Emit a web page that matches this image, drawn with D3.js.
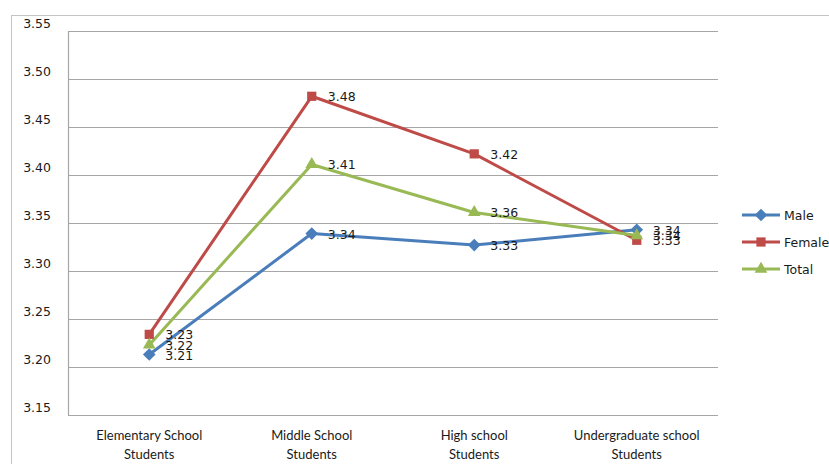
<!DOCTYPE html>
<html>
<head>
<meta charset="utf-8">
<script src="https://cdn.jsdelivr.net/npm/d3@7"></script>
<style>
  html, body { margin: 0; padding: 0; background: #fff; }
  svg { display: block; }
</style>
</head>
<body>
<svg id="chart" width="829" height="464"></svg>
<script>
const categories = [
  ["Elementary School", "Students"],
  ["Middle School", "Students"],
  ["High school", "Students"],
  ["Undergraduate school", "Students"]
];
const maleValues = [3.213, 3.339, 3.327, 3.343];
const femaleValues = [3.234, 3.482, 3.422, 3.332];
const totalValues = [3.223, 3.411, 3.361, 3.337];
const seriesNames = ["Male", "Female", "Total"];
const yTicks = [3.15, 3.20, 3.25, 3.30, 3.35, 3.40, 3.45, 3.50, 3.55];

// square rotated 45° gives an even diamond marker
const evenDiamond = {
  draw(context, size) {
    const r = Math.sqrt(size / 2);
    context.moveTo(0, -r);
    context.lineTo(r, 0);
    context.lineTo(0, r);
    context.lineTo(-r, 0);
    context.closePath();
  }
};

const series = [
  { name: seriesNames[0], values: maleValues, color: "#4A7EBB", marker: evenDiamond, size: 80 },
  { name: seriesNames[1], values: femaleValues, color: "#BE4B48", marker: d3.symbolSquare, size: 85 },
  { name: seriesNames[2], values: totalValues, color: "#98B954", marker: d3.symbolTriangle, size: 70 }
];

const svg = d3.select("#chart");

// chart frame
svg.append("rect")
  .attr("x", 11.5).attr("y", 15.5)
  .attr("width", 830).attr("height", 460)
  .attr("fill", "none").attr("stroke", "#c4c4c4").attr("stroke-width", 1);

const plot = { left: 68, right: 718, top: 31, bottom: 415 };

const x = d3.scaleBand()
  .domain(d3.range(categories.length))
  .range([plot.left, plot.right]);

const y = d3.scaleLinear()
  .domain([3.15, 3.55])
  .range([plot.bottom, plot.top]);

// horizontal gridlines
svg.append("g")
  .selectAll("line")
  .data(yTicks)
  .join("line")
  .attr("x1", plot.left).attr("x2", plot.right)
  .attr("y1", d => Math.round(y(d)) + 0.5).attr("y2", d => Math.round(y(d)) + 0.5)
  .attr("stroke", "#a6a6a6").attr("stroke-width", 1.2);

// vertical axis line
svg.append("line")
  .attr("x1", plot.left + 0.5).attr("x2", plot.left + 0.5)
  .attr("y1", plot.top).attr("y2", plot.bottom)
  .attr("stroke", "#a6a6a6").attr("stroke-width", 1.2);

// y tick labels
svg.append("g")
  .selectAll("text")
  .data(yTicks)
  .join("text")
  .attr("x", 51).attr("y", d => y(d) - 3)
  .attr("text-anchor", "end")
  .attr("font-family", "DejaVu Sans, Verdana, sans-serif")
  .attr("font-size", 12.5)
  .attr("fill", "#1a1a1a")
  .text(d => d3.format(".2f")(d));

// category labels
const catG = svg.append("g");
categories.forEach((lines, i) => {
  const t = catG.append("text")
    .attr("x", x(i) + x.bandwidth() / 2)
    .attr("y", 440)
    .attr("text-anchor", "middle")
    .attr("font-family", "Lato, Carlito, sans-serif")
    .attr("font-size", 13)
    .attr("fill", "#1a1a1a");
  lines.forEach((ln, j) => {
    t.append("tspan")
      .attr("x", x(i) + x.bandwidth() / 2)
      .attr("dy", j === 0 ? 0 : 19)
      .text(ln);
  });
});

const cx = i => x(i) + x.bandwidth() / 2;
const line = d3.line().x((d, i) => cx(i)).y(d => y(d));

// lines
series.forEach(s => {
  svg.append("path")
    .datum(s.values)
    .attr("d", line)
    .attr("fill", "none")
    .attr("stroke", s.color)
    .attr("stroke-width", 3)
    .attr("stroke-linejoin", "round");
});

// markers
series.forEach(s => {
  const sym = d3.symbol().type(s.marker).size(s.size);
  svg.append("g")
    .selectAll("path")
    .data(s.values)
    .join("path")
    .attr("transform", (d, i) => `translate(${cx(i)},${y(d)})`)
    .attr("d", sym)
    .attr("fill", s.color);
});

// data labels
series.forEach(s => {
  svg.append("g")
    .selectAll("text")
    .data(s.values)
    .join("text")
    .attr("x", (d, i) => cx(i) + 16)
    .attr("y", d => y(d) + 5)
    .attr("font-family", "DejaVu Sans, Verdana, sans-serif")
    .attr("font-size", 12.5)
    .attr("fill", "#1a1a1a")
    .text(d => d3.format(".2f")(d));
});

// legend
const legend = svg.append("g");
series.forEach((s, i) => {
  const ly = 215 + i * 27;
  legend.append("line")
    .attr("x1", 742).attr("x2", 780)
    .attr("y1", ly).attr("y2", ly)
    .attr("stroke", s.color).attr("stroke-width", 3);
  legend.append("path")
    .attr("transform", `translate(761,${ly})`)
    .attr("d", d3.symbol().type(s.marker).size(s.size))
    .attr("fill", s.color);
  legend.append("text")
    .attr("x", 784).attr("y", ly + 5)
    .attr("font-family", "DejaVu Sans, Verdana, sans-serif")
    .attr("font-size", 12.5)
    .attr("fill", "#1a1a1a")
    .text(s.name);
});
</script>
</body>
</html>
